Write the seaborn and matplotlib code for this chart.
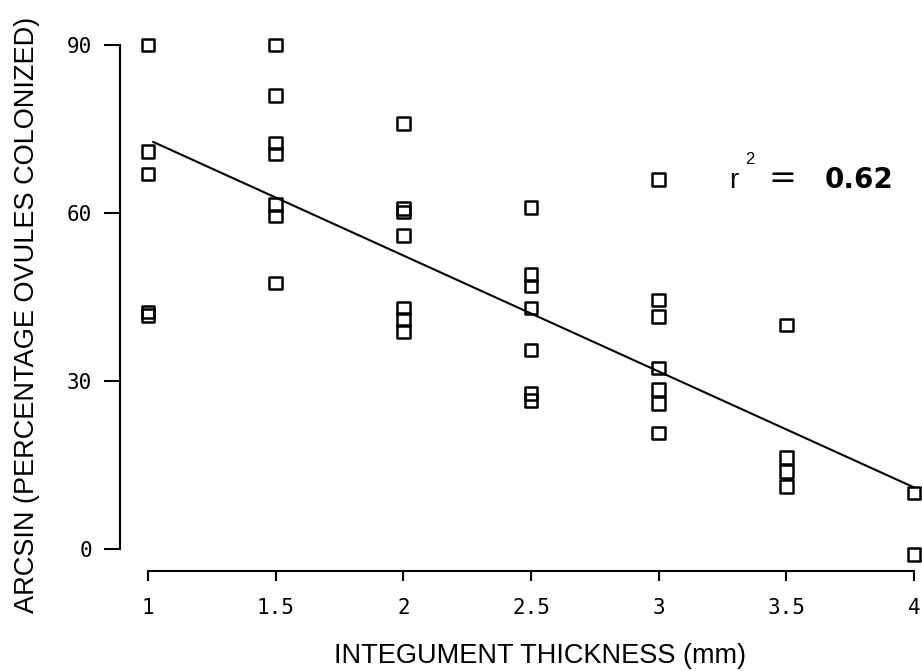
import matplotlib
matplotlib.use("Agg")
import matplotlib.pyplot as plt
import seaborn as sns
import pandas as pd

# Data
thickness = [1, 1, 1, 1, 1,
             1.5, 1.5, 1.5, 1.5, 1.5, 1.5, 1.5,
             2, 2, 2, 2, 2, 2, 2,
             2.5, 2.5, 2.5, 2.5, 2.5, 2.5, 2.5,
             3, 3, 3, 3, 3, 3, 3,
             3.5, 3.5, 3.5, 3.5,
             4, 4]
arcsin_colonized = [90, 71, 67, 42.3, 41.7,
                    90, 81, 72.5, 70.5, 61.5, 59.5, 47.5,
                    76, 60.8, 60.2, 56, 43, 41, 38.8,
                    61, 49, 47, 43, 35.5, 27.8, 26.5,
                    66, 44.5, 41.5, 32.3, 28.5, 26, 20.7,
                    40, 16.3, 13.8, 11.2,
                    10, -1]

fit_x = [1.02, 4.0]
fit_y = [72.7, 11.0]

x_ticks = [1, 1.5, 2, 2.5, 3, 3.5, 4]
x_tick_labels = ["1", "1.5", "2", "2.5", "3", "3.5", "4"]
y_ticks = [0, 30, 60, 90]
y_tick_labels = ["0", "30", "60", "90"]

r2_text = "0.62"
x_label = "INTEGUMENT THICKNESS (mm)"
y_label = "ARCSIN (PERCENTAGE OVULES COLONIZED)"

df = pd.DataFrame({"thickness": thickness, "arcsin": arcsin_colonized})

sns.set_style("ticks")
plt.rcParams["font.family"] = ["Liberation Sans", "DejaVu Sans"]
plt.rcParams["text.color"] = "black"
plt.rcParams["axes.labelcolor"] = "black"
plt.rcParams["xtick.color"] = "black"
plt.rcParams["ytick.color"] = "black"

fig = plt.figure(figsize=(9.22, 6.71), dpi=100)
ax = fig.add_axes([148 / 922, 122 / 671, 766 / 922, 504 / 671])

sns.lineplot(x=fit_x, y=fit_y, color="black", linewidth=1.5, ax=ax)
sns.scatterplot(data=df, x="thickness", y="arcsin", marker="s", s=81,
                facecolor="none", edgecolor="black", linewidth=1.8,
                ax=ax, clip_on=False, zorder=3)

ax.set_xlim(1, 4)
ax.set_ylim(0, 90)
ax.set_xticks(x_ticks, x_tick_labels)
ax.set_yticks(y_ticks, y_tick_labels)

sns.despine(ax=ax, offset={"left": 20, "bottom": 16})
for sp in ("left", "bottom"):
    ax.spines[sp].set_linewidth(1.5)
    ax.spines[sp].set_color("black")
ax.tick_params(axis="y", length=11.5, width=1.5, pad=9, colors="black",
               labelsize=15, labelfontfamily="DejaVu Sans Mono")
ax.tick_params(axis="x", length=7, width=1.5, pad=12, colors="black",
               labelsize=15, labelfontfamily="DejaVu Sans Mono")

ax.set_xlabel(x_label, fontsize=19.5, color="black")
ax.set_ylabel(y_label, fontsize=19.5, color="black")
ax.xaxis.set_label_coords(0.512, -0.186)
ax.yaxis.set_label_coords(-0.141, 0.464)

# r^2 annotation
anchor = (3.274, 64.5)
ax.annotate("r", xy=anchor, xytext=(0, 0), textcoords="offset points",
            fontsize=20, ha="left", va="baseline")
ax.annotate("2", xy=anchor, xytext=(12, 17), textcoords="offset points",
            fontsize=12, ha="left", va="baseline")
ax.annotate("=", xy=anchor, xytext=(29, 0), textcoords="offset points",
            fontsize=24, ha="left", va="baseline", family="DejaVu Sans")
ax.annotate(r2_text, xy=anchor, xytext=(69, 0), textcoords="offset points",
            fontsize=20, fontweight="bold", ha="left", va="baseline",
            family="DejaVu Sans")

fig.savefig("out.png", dpi=100, facecolor="white")
